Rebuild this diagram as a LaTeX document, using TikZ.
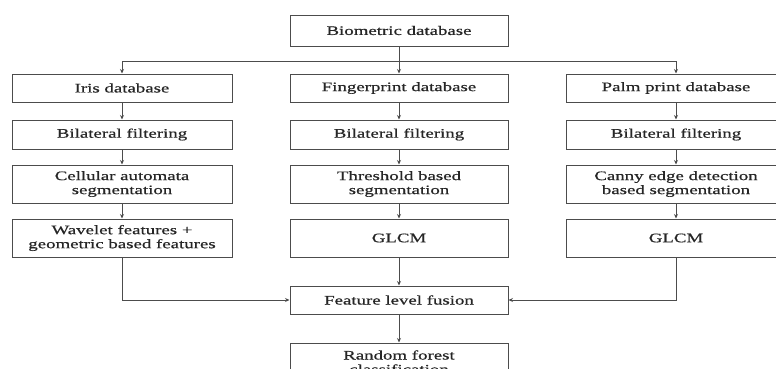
\documentclass[tikz,border=0pt]{standalone}
\usepackage{fontspec}
\setmainfont{Liberation Serif}[FakeStretch=1.45, FakeBold=0.6]
\usetikzlibrary{arrows.meta,positioning}
\tikzset{
  fbox/.style={rectangle, draw=black!70, line width=1pt, fill=white,
               minimum width=220pt, inner sep=0pt, align=center,
               font=\fontsize{13}{14}\selectfont, text=black!85},
  fone/.style={fbox, minimum height=28pt},
  ftwo/.style={fbox, minimum height=38pt},
  flow/.style={-{Stealth[length=4.5pt,width=4pt]}, line width=1pt, black!70},
}

\begin{document}
\begin{tikzpicture}[x=1pt, y=-1pt]
\clip (0,0) rectangle (776,368);
\fill[white] (0,0) rectangle (776,368);
% source
\node[fone, minimum width=218pt, minimum height=31pt] (db) at (399,30.5) {Biometric database};
\coordinate (split) at (399,61);
% three branches
\node[fone] (iris)   at (122,88) {Iris database};
\node[fone, minimum width=218pt] (finger) at (399,88) {Fingerprint database};
\node[fone] (palm)   at (676,88) {Palm print database};
\node[fone, minimum height=29pt] (bfI) at (122,134.5) {Bilateral filtering};
\node[fone, minimum height=29pt, minimum width=218pt] (bfF) at (399,134.5) {Bilateral filtering};
\node[fone, minimum height=29pt] (bfP) at (676,134.5) {Bilateral filtering};
\node[ftwo] (segI) at (122,184) {Cellular automata\\segmentation};
\node[ftwo, minimum width=218pt] (segF) at (399,184) {Threshold based\\segmentation};
\node[ftwo] (segP) at (676,184) {Canny edge detection\\based segmentation};
\node[ftwo] (featI) at (122,238) {Wavelet features +\\geometric based features};
\node[ftwo, minimum width=218pt] (featF) at (399,238) {GLCM};
\node[ftwo] (featP) at (676,238) {GLCM};
% fusion and classifier
\node[fone, minimum width=218pt] (fusion) at (399,300) {Feature level fusion};
\node[ftwo, minimum width=218pt] (rf) at (399,362) {Random forest\\classification};

\draw[flow] (db) -- (finger);
\draw[flow] (split) -| (iris);
\draw[flow] (split) -| (palm);
\draw[flow] (iris) -- (bfI);
\draw[flow] (finger) -- (bfF);
\draw[flow] (palm) -- (bfP);
\draw[flow] (bfI) -- (segI);
\draw[flow] (bfF) -- (segF);
\draw[flow] (bfP) -- (segP);
\draw[flow] (segI) -- (featI);
\draw[flow] (segF) -- (featF);
\draw[flow] (segP) -- (featP);
\draw[flow] (featI) |- (fusion);
\draw[flow] (featF) -- (fusion);
\draw[flow] (featP) |- (fusion);
\draw[flow] (fusion) -- (rf);
\end{tikzpicture}
\end{document}
